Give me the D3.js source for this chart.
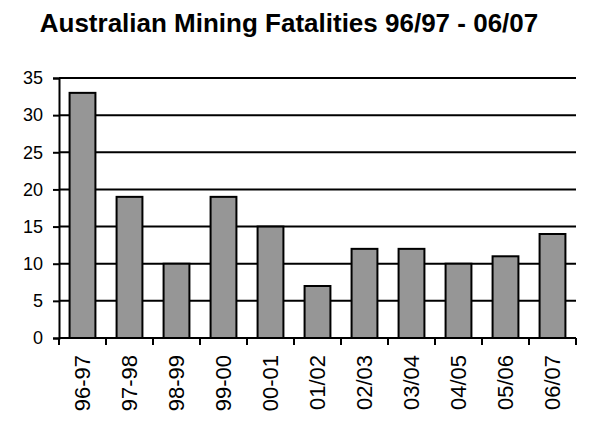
<!DOCTYPE html>
<html>
<head>
<meta charset="utf-8">
<script src="https://cdn.jsdelivr.net/npm/d3@7"></script>
<style>
  body { margin: 0; background: #fff; }
  text { font-family: "Liberation Sans", Arial, sans-serif; fill: #000; }
</style>
</head>
<body>
<div id="chart"></div>
<script>
const years = ["96-97", "97-98", "98-99", "99-00", "00-01", "01/02", "02/03", "03/04", "04/05", "05/06", "06/07"];
const fatalities = [33, 19, 10, 19, 15, 7, 12, 12, 10, 11, 14];
const yTicks = [0, 5, 10, 15, 20, 25, 30, 35];

(function() {
    const width = 600,
        height = 431,
        margin = ({ top: 78, right: 24, bottom: 93, left: 59 });

    const data = years.map((y, i) => ({ year: y, value: fatalities[i] }));

    let svg = d3.select("#chart")
        .append("svg")
        .attr("width", width)
        .attr("height", height);

    let x = d3.scaleBand()
        .domain(years)
        .range([margin.left, width - margin.right])
        .paddingInner(0.45)
        .paddingOuter(0.225);

    let y = d3.scaleLinear()
        .domain([0, 35])
        .range([height - margin.bottom, margin.top]);

    // title
    svg.append("text")
        .attr("x", 289)
        .attr("y", 32)
        .attr("text-anchor", "middle")
        .style("font-size", "26px")
        .style("font-weight", "bold")
        .text("Australian Mining Fatalities 96/97 - 06/07");

    // gridlines
    svg.append("g")
        .selectAll("line")
        .data(yTicks.filter(d => d > 0))
        .join("line")
        .attr("x1", margin.left)
        .attr("x2", width - margin.right)
        .attr("y1", d => y(d))
        .attr("y2", d => y(d))
        .attr("stroke", "#000")
        .attr("stroke-width", 2);

    // bars
    svg.append("g")
        .selectAll("rect")
        .data(data)
        .join("rect")
        .attr("x", d => x(d.year))
        .attr("y", d => y(d.value))
        .attr("width", x.bandwidth())
        .attr("height", d => y(0) - y(d.value))
        .attr("fill", "#969696")
        .attr("stroke", "#000")
        .attr("stroke-width", 2);

    // y axis
    let yAxis = svg.append("g")
        .attr("transform", `translate(${margin.left},0)`)
        .call(d3.axisLeft(y).tickValues(yTicks).tickSize(6).tickPadding(10));
    yAxis.select(".domain").attr("stroke-width", 2);
    yAxis.selectAll(".tick line").attr("stroke-width", 2);
    yAxis.selectAll(".tick text")
        .style("font-size", "18px")
        .attr("font-family", null);

    // x axis, ticks between the bands
    let xAxis = svg.append("g")
        .attr("transform", `translate(0,${y(0)})`);
    xAxis.append("line")
        .attr("x1", margin.left)
        .attr("x2", width - margin.right)
        .attr("stroke", "#000")
        .attr("stroke-width", 2);
    const step = x.step();
    const edges = d3.range(years.length + 1).map(i => margin.left + i * step);
    xAxis.selectAll(".edge")
        .data(edges)
        .join("line")
        .attr("class", "edge")
        .attr("x1", d => d)
        .attr("x2", d => d)
        .attr("y1", 0)
        .attr("y2", 7)
        .attr("stroke", "#000")
        .attr("stroke-width", 2);

    xAxis.selectAll(".label")
        .data(years)
        .join("text")
        .attr("class", "label")
        .attr("transform", d => `translate(${x(d) + x.bandwidth() / 2},17) rotate(-90)`)
        .attr("text-anchor", "end")
        .attr("dy", "0.35em")
        .style("font-size", "22px")
        .text(d => d);
})();
</script>
</body>
</html>
